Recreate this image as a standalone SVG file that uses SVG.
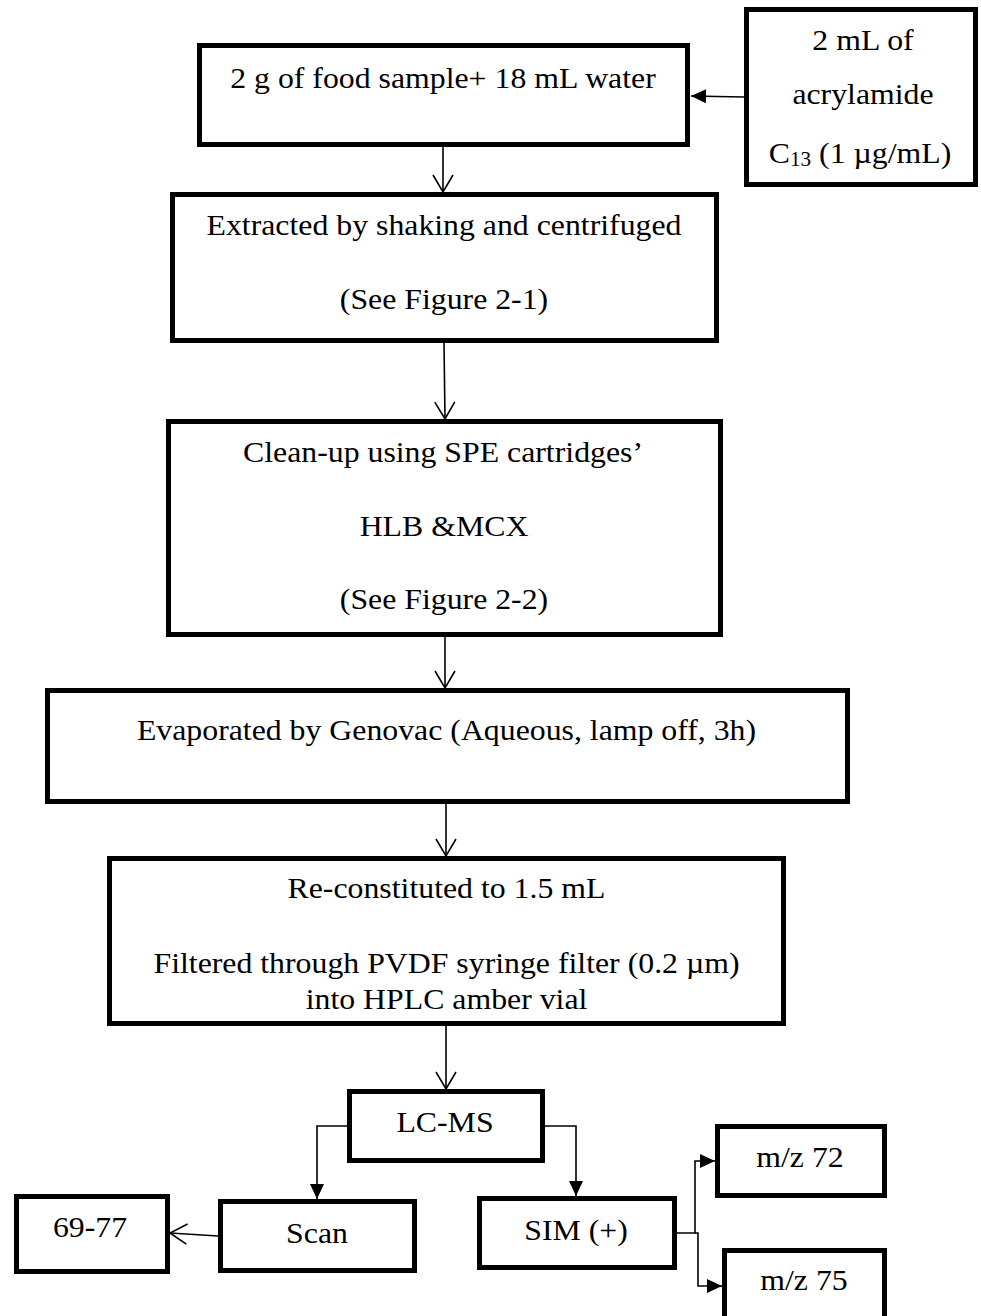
<svg xmlns="http://www.w3.org/2000/svg" width="981" height="1316" viewBox="0 0 981 1316">
<defs>
<style>
.box{fill:#fff;stroke:#000;stroke-width:5}
.t{font-family:"Liberation Serif","Times New Roman",serif;font-size:30px;fill:#000;text-anchor:middle}
.c{fill:none;stroke:#000;stroke-width:1.6}
</style>
<marker id="open" markerWidth="20" markerHeight="22" refX="18" refY="11" orient="auto" markerUnits="userSpaceOnUse"><path d="M1,1 L18,11 L1,21" fill="none" stroke="#000" stroke-width="1.6"/></marker>
<marker id="fill" markerWidth="16" markerHeight="16" refX="15" refY="8" orient="auto" markerUnits="userSpaceOnUse"><path d="M0,1 L15,8 L0,15 Z" fill="#000"/></marker>
</defs>
<rect width="981" height="1316" fill="#fff"/>
<g id="n1"><rect class="box" x="199.5" y="45.5" width="488" height="99"/><text class="t" transform="translate(443,88) scale(1.06,1)">2 g of food sample+ 18 mL water</text></g>
<g id="n2"><rect class="box" x="746.5" y="9.5" width="229" height="175"/><text class="t" transform="translate(863,50) scale(1.06,1)">2 mL of</text><text class="t" transform="translate(863,104) scale(1.06,1)">acrylamide</text><text class="t" transform="translate(860,163) scale(1.06,1)">C<tspan font-size="20" dy="3">13</tspan><tspan dy="-3"> (1 µg/mL)</tspan></text></g>
<g id="n3"><rect class="box" x="172.5" y="194.5" width="544" height="146"/><text class="t" transform="translate(444,235) scale(1.06,1)">Extracted by shaking and centrifuged</text><text class="t" transform="translate(444,309) scale(1.06,1)">(See Figure 2-1)</text></g>
<g id="n4"><rect class="box" x="168.5" y="421.5" width="552" height="213"/><text class="t" transform="translate(443,462) scale(1.06,1)">Clean-up using SPE cartridges’</text><text class="t" transform="translate(444,536) scale(1.06,1)">HLB &amp;MCX</text><text class="t" transform="translate(444,609) scale(1.06,1)">(See Figure 2-2)</text></g>
<g id="n5"><rect class="box" x="47.5" y="690.5" width="800" height="111"/><text class="t" transform="translate(446.5,740) scale(1.06,1)">Evaporated by Genovac (Aqueous, lamp off, 3h)</text></g>
<g id="n6"><rect class="box" x="109.5" y="858.5" width="674" height="165"/><text class="t" transform="translate(446.5,898) scale(1.06,1)">Re-constituted to 1.5 mL</text><text class="t" transform="translate(446.5,973) scale(1.06,1)">Filtered through PVDF syringe filter (0.2 µm)</text><text class="t" transform="translate(446.5,1009) scale(1.06,1)">into HPLC amber vial</text></g>
<g id="n7"><rect class="box" x="349.5" y="1091.5" width="193" height="69"/><text class="t" transform="translate(445,1132) scale(1.06,1)">LC-MS</text></g>
<g id="n8"><rect class="box" x="220.5" y="1201.5" width="194" height="69"/><text class="t" transform="translate(317,1243) scale(1.06,1)">Scan</text></g>
<g id="n9"><rect class="box" x="16.5" y="1196.5" width="151" height="75"/><text class="t" transform="translate(90,1237) scale(1.06,1)">69-77</text></g>
<g id="n10"><rect class="box" x="479.5" y="1198.5" width="195" height="69"/><text class="t" transform="translate(576,1240) scale(1.06,1)">SIM (+)</text></g>
<g id="n11"><rect class="box" x="717.5" y="1126.5" width="167" height="69"/><text class="t" transform="translate(800,1167) scale(1.06,1)">m/z 72</text></g>
<g id="n12"><rect class="box" x="724.5" y="1250.5" width="160" height="80"/><text class="t" transform="translate(804,1290) scale(1.06,1)">m/z 75</text></g>
<g id="connectors">
<path class="c" d="M744,97 L691,96" marker-end="url(#fill)"/>
<path class="c" d="M443,147 L443,192" marker-end="url(#open)"/>
<path class="c" d="M444,343 L445,419" marker-end="url(#open)"/>
<path class="c" d="M445,637 L445,688" marker-end="url(#open)"/>
<path class="c" d="M446,804 L446,856" marker-end="url(#open)"/>
<path class="c" d="M446,1026 L446,1089" marker-end="url(#open)"/>
<path class="c" d="M347,1126 L317,1126 L317,1199" marker-end="url(#fill)"/>
<path class="c" d="M545,1126 L576,1126 L576,1196" marker-end="url(#fill)"/>
<path class="c" d="M218,1236 L170,1233" marker-end="url(#open)"/>
<path class="c" d="M677,1233 L695,1233 L695,1161 L715,1161" marker-end="url(#fill)"/>
<path class="c" d="M695,1233 L698,1233 L698,1286 L722,1286" marker-end="url(#fill)"/>
</g>
</svg>
